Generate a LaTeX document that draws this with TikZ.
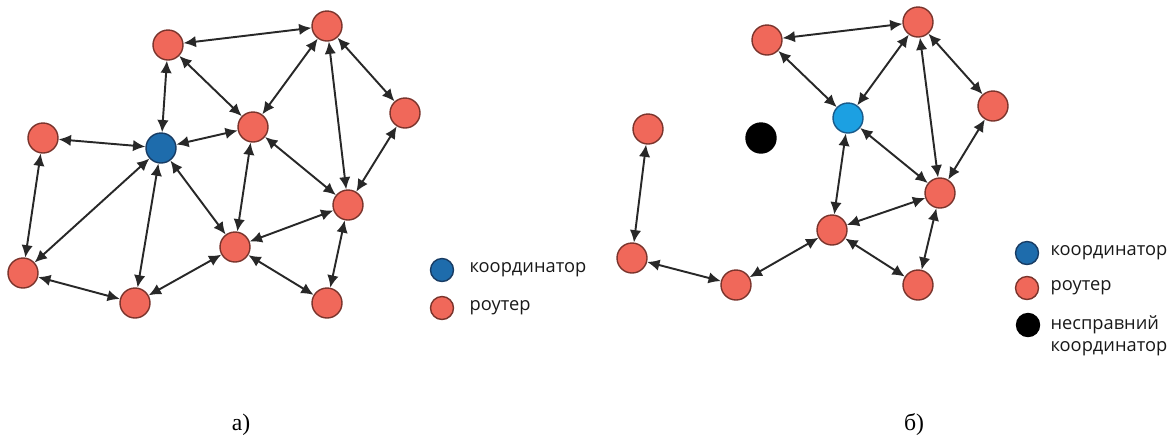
\documentclass[tikz,border=0pt]{standalone}
\usepackage{fontspec}
\setmainfont{Liberation Serif}
\newfontfamily\legendfont{Open Sans}
\usetikzlibrary{positioning,arrows.meta}

\definecolor{routerfill}{RGB}{240,104,90}
\definecolor{routerline}{RGB}{122,52,44}
\definecolor{coordfill}{RGB}{30,108,172}
\definecolor{coordline}{RGB}{24,60,100}
\definecolor{coordlight}{RGB}{28,160,226}
\definecolor{linkgray}{RGB}{40,40,40}

\begin{document}
\begin{tikzpicture}[
router/.style={
circle,
draw=routerline,
fill=routerfill,
line width=0.8pt,
minimum size=0.6cm,
inner sep=0pt
},
coordinator/.style={
router,
draw=coordline,
fill=coordfill
},
newcoordinator/.style={
router,
draw=coordline!70!coordlight,
fill=coordlight
},
failed/.style={
router,
draw=black,
fill=black
},
legendmark/.style={
minimum size=0.46cm
},
legendtext/.style={
font=\legendfont\fontsize{10.4}{12.8}\selectfont,
text=black!90,
inner sep=0pt,
align=left
},
link/.style={
draw=linkgray,
line width=1.1pt,
{Latex[length=7pt,width=6.5pt]}-{Latex[length=7pt,width=6.5pt]}
}
]

\useasboundingbox (0,0) rectangle (23.48,-8.82);

% a) working network
\node[router] (A) at (3.36,-0.90) {};
\node[router] (B) at (6.54,-0.52) {};
\node[router] (C) at (0.86,-2.76) {};
\node[coordinator] (D) at (3.22,-2.96) {};
\node[router] (E) at (5.06,-2.54) {};
\node[router] (F) at (8.10,-2.26) {};
\node[router] (G) at (6.96,-4.10) {};
\node[router] (H) at (4.70,-4.94) {};
\node[router] (I) at (0.46,-5.46) {};
\node[router] (J) at (2.70,-6.06) {};
\node[router] (K) at (6.54,-6.06) {};

\draw[link] (A) -- (B);
\draw[link] (A) -- (D);
\draw[link] (A) -- (E);
\draw[link] (B) -- (E);
\draw[link] (B) -- (G);
\draw[link] (B) -- (F);
\draw[link] (C) -- (D);
\draw[link] (C) -- (I);
\draw[link] (D) -- (E);
\draw[link] (D) -- (I);
\draw[link] (D) -- (J);
\draw[link] (D) -- (H);
\draw[link] (E) -- (H);
\draw[link] (E) -- (G);
\draw[link] (F) -- (G);
\draw[link] (G) -- (H);
\draw[link] (G) -- (K);
\draw[link] (H) -- (J);
\draw[link] (H) -- (K);
\draw[link] (I) -- (J);

\node[coordinator,legendmark] (lc1) at (8.84,-5.40) {};
\node[router,legendmark] (lr1) at (8.84,-6.16) {};
\node[legendtext,anchor=west,right=0.3cm of lc1] (tc1) {координатор};
\node[legendtext,anchor=west,right=0.3cm of lr1] (tr1) {роутер};

\node (capA) at (4.82,-8.50) {\fontsize{13.5}{16}\selectfont а)};

% b) coordinator failed
\node[router] (a) at (15.34,-0.80) {};
\node[router] (b) at (18.36,-0.44) {};
\node[newcoordinator] (c) at (16.96,-2.36) {};
\node[router] (d) at (19.86,-2.12) {};
\node[router] (e) at (12.96,-2.58) {};
\node[failed] (x) at (15.22,-2.76) {};
\node[router] (f) at (18.80,-3.86) {};
\node[router] (g) at (16.64,-4.60) {};
\node[router] (h) at (12.64,-5.16) {};
\node[router] (i) at (14.72,-5.70) {};
\node[router] (j) at (18.36,-5.70) {};

\draw[link] (a) -- (b);
\draw[link] (a) -- (c);
\draw[link] (b) -- (c);
\draw[link] (b) -- (f);
\draw[link] (b) -- (d);
\draw[link] (d) -- (f);
\draw[link] (c) -- (f);
\draw[link] (c) -- (g);
\draw[link] (g) -- (f);
\draw[link] (g) -- (j);
\draw[link] (f) -- (j);
\draw[link] (g) -- (i);
\draw[link] (i) -- (h);
\draw[link] (h) -- (e);

\node[coordinator,legendmark] (lc2) at (20.54,-5.06) {};
\node[router,legendmark] (lr2) at (20.54,-5.76) {};
\node[failed,legendmark] (lf2) at (20.56,-6.50) {};
\node[legendtext,anchor=west,right=0.22cm of lc2] (tc2) {координатор};
\node[legendtext,anchor=west,right=0.22cm of lr2] (tr2) {роутер};
\node[legendtext,anchor=north west] (tf2) at ([yshift=0.2cm]tc2.west |- lf2) {несправний\\координатор};

\node (capB) at (18.28,-8.50) {\fontsize{13.5}{16}\selectfont б)};

\end{tikzpicture}
\end{document}
